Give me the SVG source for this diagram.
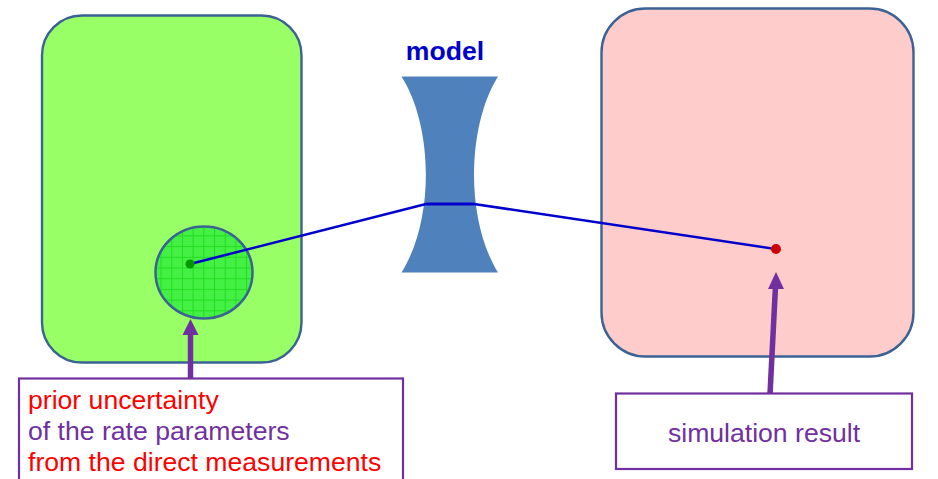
<svg xmlns="http://www.w3.org/2000/svg" width="938" height="479" viewBox="0 0 938 479">
<style>
.box{stroke:#3b6294;stroke-width:2.4}
.lbl{fill:#ffffff;stroke:#7030a0;stroke-width:2.2}
.t{font-family:"Liberation Sans",Arial,sans-serif;font-size:26.6px}
.red{fill:#ff0000}
.pur{fill:#7030a0}
.conn{stroke:#0000cc;stroke-width:2.5;fill:none}
.arr{stroke:#7030a0;stroke-width:5.5;fill:none}
</style>
<defs>
<pattern id="grid" patternUnits="userSpaceOnUse" x="0" y="0" width="10.7" height="10.7">
<rect width="10.7" height="10.7" fill="#44f044"/>
<path d="M0,0.5H10.7M0.5,0V10.7" stroke="#22dd22" stroke-width="1"/>
</pattern>
</defs>
<g id="prior-space">
<rect class="box" x="42" y="15.5" width="259.5" height="347" rx="40" ry="40" fill="#99ff66"/>
</g>
<g id="result-space">
<rect class="box" x="601.5" y="8.5" width="312" height="348" rx="44" ry="44" fill="#ffcccc"/>
</g>
<g id="uncertainty">
<ellipse cx="204" cy="272.5" rx="48.5" ry="46" fill="url(#grid)" stroke="#3b6294" stroke-width="2.5"/>
</g>
<g id="model">
<path d="M401.5,76.5 L498,76.5 C466,128 466,221 498,272.5 L401.5,272.5 C434,221 434,128 401.5,76.5 Z" fill="#4f81bd"/>
<text class="t" x="445" y="60" text-anchor="middle" font-weight="bold" fill="#0000cc">model</text>
</g>
<g id="connectors">
<polyline class="conn" points="190,264 426,204"/>
<line x1="426" y1="204" x2="474" y2="204" stroke="#0000cc" stroke-width="3"/>
<polyline class="conn" points="474,204 776,249"/>
<line class="arr" x1="190.5" y1="379" x2="190.5" y2="332"/>
<polygon points="190.5,319 182.5,335 198.5,335" fill="#7030a0"/>
<line class="arr" x1="770" y1="394" x2="775.5" y2="286"/>
<polygon points="776,272 768,289 784,289" fill="#7030a0"/>
</g>
<g id="points">
<circle cx="190" cy="264" r="4.5" fill="#009900"/>
<circle cx="776" cy="249" r="5" fill="#cc0000"/>
</g>
<g id="prior-label">
<rect class="lbl" x="19" y="378.5" width="384" height="110"/>
<text class="t red" x="28" y="409">prior uncertainty</text>
<text class="t pur" x="28" y="440">of the rate parameters</text>
<text class="t red" x="28" y="471">from the direct measurements</text>
</g>
<g id="result-label">
<rect class="lbl" x="616" y="393.5" width="296" height="75.5"/>
<text class="t pur" x="764" y="442" text-anchor="middle">simulation result</text>
</g>
</svg>
